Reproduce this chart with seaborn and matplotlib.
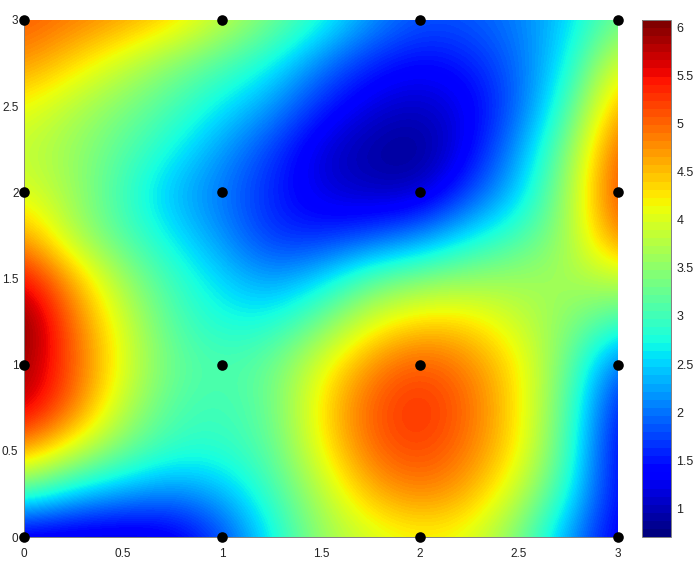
import matplotlib.pyplot as plt
import numpy as np
import pandas as pd
import seaborn as sns
from matplotlib.cm import ScalarMappable
from matplotlib.colors import Normalize

# surface values, one row per y (0, .25 ... 3), columns x (0, .25 ... 3)
y0_00 = [1.05, 1.05, 1.05, 1.15, 1.70, 2.65, 3.55, 3.95, 4.15, 4.05, 3.35, 2.20, 1.20]
y0_25 = [3.00, 2.45, 2.20, 2.05, 2.30, 2.95, 3.75, 4.55, 4.85, 4.60, 3.85, 2.75, 1.30]
y0_50 = [4.70, 3.95, 3.30, 2.85, 2.85, 3.15, 4.15, 5.00, 5.25, 4.90, 4.25, 3.00, 1.25]
y0_75 = [5.80, 4.95, 3.80, 3.10, 2.95, 3.25, 4.30, 5.10, 5.40, 5.00, 4.30, 3.10, 1.40]
y1_00 = [6.00, 5.10, 4.05, 3.25, 3.05, 3.25, 4.05, 4.80, 5.15, 4.85, 4.25, 3.25, 1.85]
y1_25 = [6.20, 4.95, 3.95, 3.10, 2.75, 2.75, 3.30, 4.05, 4.40, 4.35, 3.90, 3.45, 2.95]
y1_50 = [5.60, 4.60, 3.60, 2.95, 2.50, 2.15, 2.50, 3.15, 3.40, 3.55, 3.60, 3.65, 3.85]
y1_75 = [4.70, 3.70, 3.10, 2.60, 2.15, 1.60, 1.55, 1.75, 2.05, 2.60, 3.00, 3.60, 4.95]
y2_00 = [4.05, 3.60, 2.95, 2.35, 2.00, 1.55, 1.15, 1.00, 1.00, 1.70, 2.45, 3.60, 5.30]
y2_25 = [3.85, 3.55, 3.15, 2.70, 2.20, 1.70, 1.10, 0.85, 0.72, 1.30, 2.20, 3.40, 5.15]
y2_50 = [4.15, 3.75, 3.40, 3.05, 2.60, 2.20, 1.55, 1.15, 1.00, 1.25, 1.90, 3.00, 4.70]
y2_75 = [4.75, 4.35, 3.90, 3.45, 3.10, 2.70, 2.05, 1.55, 1.35, 1.50, 1.95, 2.65, 4.10]
y3_00 = [5.10, 4.90, 4.70, 4.40, 3.85, 3.35, 2.80, 2.20, 1.80, 1.85, 2.05, 2.50, 3.30]

# the sample points
point_x = [0, 1, 2, 3] * 4
point_y = [0] * 4 + [1] * 4 + [2] * 4 + [3] * 4

ticks = [0, 0.5, 1, 1.5, 2, 2.5, 3]
cbar_ticks = [1, 1.5, 2, 2.5, 3, 3.5, 4, 4.5, 5, 5.5, 6]
vmin = 0.70
vmax = 6.08

sns.set_style('white')
plt.rcParams['font.family'] = ['Liberation Sans', 'DejaVu Sans']

W, H = 699, 571
fig = plt.figure(figsize=(W / 100, H / 100), dpi=100)
ax = fig.add_axes([24 / W, 1 - 537 / H, 594 / W, 517 / H])
cax = fig.add_axes([642 / W, 1 - 537 / H, 29 / W, 517 / H])

z = np.array([y0_00, y0_25, y0_50, y0_75, y1_00, y1_25, y1_50, y1_75,
              y2_00, y2_25, y2_50, y2_75, y3_00])
ax.imshow(z, origin='lower', extent=(-.125, 3.125, -.125, 3.125), aspect='auto',
          cmap=plt.get_cmap('jet', 128), vmin=vmin, vmax=vmax,
          interpolation='bicubic', interpolation_stage='data')

df = pd.DataFrame({'x': point_x, 'y': point_y})
sns.scatterplot(data=df, x='x', y='y', color='black', s=58, linewidth=0,
                clip_on=False, zorder=5, ax=ax)

ax.set_xlim(0, 3)
ax.set_ylim(0, 3)
ax.set_xticks(ticks)
ax.set_yticks(ticks)
ax.set_xticklabels(['%g' % t for t in ticks])
ax.set_yticklabels(['%g' % t for t in ticks])
ax.set_xlabel('')
ax.set_ylabel('')
ax.tick_params(length=0, labelsize=8.5, pad=8, colors='#222222')
ax.tick_params(axis='y', pad=4)
for s in ax.spines.values():
    s.set_color('#808080')
    s.set_linewidth(.7)
ax.spines['top'].set_visible(False)
ax.spines['right'].set_visible(False)

sm = ScalarMappable(norm=Normalize(vmin, vmax), cmap=plt.get_cmap('jet', 64))
cb = fig.colorbar(sm, cax=cax, ticks=cbar_ticks, format='%g')
cb.outline.set_edgecolor('#808080')
cb.outline.set_linewidth(.7)
cax.tick_params(axis='y', direction='in', length=4, width=.7, color='#222222', labelsize=9,
                pad=4, left=True, right=True, labelcolor='#222222')

fig.savefig('out.png', dpi=100)
